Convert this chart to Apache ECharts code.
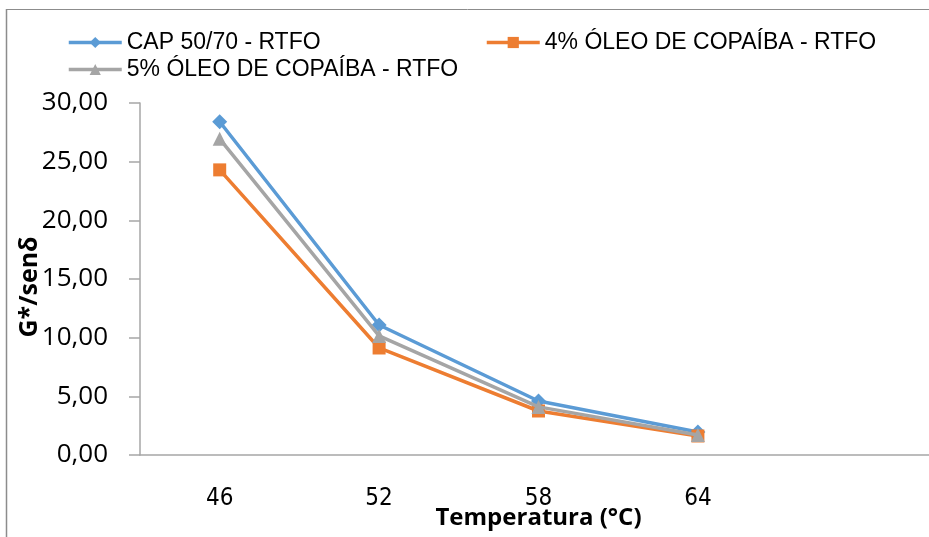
<!DOCTYPE html>
<html>
<head>
<meta charset="utf-8">
<script src="https://cdn.jsdelivr.net/npm/echarts@6/dist/echarts.min.js"></script>
<style>
  html, body { margin: 0; padding: 0; background: #fff; }
  #chart { width: 929px; height: 537px; }
</style>
</head>
<body>
<div id="chart"></div>
<script>
// temperaturas (último vazio, como na planilha)
const temperaturas = ['46', '52', '58', '64', ''];
const cap5070 = [28.4, 11.08, 4.6, 1.96];
const oleo4 = [24.3, 9.12, 3.75, 1.62];
const oleo5 = [26.95, 10.15, 4.1, 1.7];
const nomes = ['CAP 50/70 - RTFO', '4% ÓLEO DE COPAÍBA - RTFO', '5% ÓLEO DE COPAÍBA - RTFO'];

const cores = ['#5B9BD5', '#ED7D31', '#A5A5A5'];
const simbolos = ['diamond', 'rect', 'triangle'];
const tamanhos = [15, 13, 14];

const chart = echarts.init(document.getElementById('chart'));

const series = [cap5070, oleo4, oleo5].map((dados, i) => ({
    name: nomes[i],
    type: 'line',
    data: dados,
    symbol: simbolos[i],
    symbolSize: tamanhos[i],
    showAllSymbol: true,
    lineStyle: { color: cores[i], width: 3.5 },
    itemStyle: { color: cores[i] },
    z: i === 2 ? 3 : 2
}));

// posições da legenda (três blocos)
const legendaPos = [[67, 31], [485, 31], [67, 58]];
const legend = nomes.map((n, i) => ({
    data: [n],
    left: legendaPos[i][0], top: legendaPos[i][1],
    padding: 0,
    itemWidth: 53, itemHeight: 14, itemGap: 0,
    lineStyle: { width: 3.5 },
    textStyle: { fontFamily: 'Liberation Sans', fontSize: 23, color: '#000' }
}));

chart.setOption({
    animation: false,
    color: cores,
    grid: { left: 140, top: 103, width: 797, bottom: 82, outerBoundsMode: 'none' },
    legend: legend,
    xAxis: {
        type: 'category',
        data: temperaturas,
        boundaryGap: true,
        name: 'Temperatura (°C)',
        nameLocation: 'middle',
        nameGap: 51,
        nameMoveOverlap: false,
        nameTextStyle: { fontFamily: 'Open Sans', fontWeight: 'bold', fontSize: 24, color: '#000' },
        axisLine: { lineStyle: { color: '#A6A6A6', width: 1.5 } },
        axisTick: { show: false },
        axisLabel: { fontFamily: '"DejaVu Sans Condensed", Roboto', fontSize: 24, color: '#000', margin: 32 }
    },
    yAxis: {
        type: 'value',
        min: 0, max: 30, interval: 5,
        name: 'G*/senδ',
        nameLocation: 'middle',
        nameGap: 98,
        nameMoveOverlap: false,
        nameTextStyle: {
            fontFamily: 'Open Sans', fontWeight: 'bold', fontSize: 25, color: '#000',
            padding: [0, 16, 0, 0]
        },
        axisLine: { show: true, lineStyle: { color: '#A6A6A6', width: 1.5 } },
        axisTick: { show: true, length: 11, lineStyle: { color: '#A6A6A6', width: 1.5 } },
        splitLine: { show: false },
        axisLabel: {
            fontFamily: 'Open Sans', fontSize: 26, color: '#000', margin: 32,
            formatter: v => v.toFixed(2).replace('.', ',')
        }
    },
    graphic: [
        { type: 'line', shape: { x1: 6.5, y1: 9, x2: 6.5, y2: 537 }, style: { stroke: '#8C8C8C', lineWidth: 1.5 } },
        { type: 'line', shape: { x1: 6, y1: 9.5, x2: 929, y2: 9.5 }, style: { stroke: '#8C8C8C', lineWidth: 1 } }
    ],
    series: series
});
</script>
</body>
</html>
